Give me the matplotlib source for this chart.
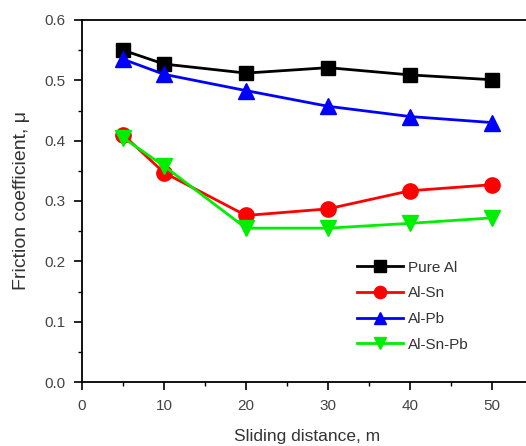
import matplotlib
matplotlib.use("Agg")
import matplotlib.pyplot as plt
from matplotlib.ticker import MultipleLocator

plt.rcParams['font.family'] = ['Liberation Sans', 'DejaVu Sans']

distance = [5, 10, 20, 30, 40, 50]
pure_al = [0.550, 0.527, 0.512, 0.521, 0.509, 0.501]
al_sn = [0.410, 0.347, 0.276, 0.287, 0.317, 0.327]
al_pb = [0.535, 0.510, 0.483, 0.457, 0.440, 0.430]
al_sn_pb = [0.405, 0.358, 0.255, 0.255, 0.263, 0.272]

fig = plt.figure(figsize=(5.26, 4.46), dpi=100)
ax = fig.add_axes([82/526, 64/446, (533-82)/526, (382-20)/446])

ax.plot(distance, pure_al, color='black', marker='s', markersize=10, lw=2, label='Pure Al')
ax.plot(distance, al_sn, color='red', marker='o', markersize=11, lw=2, label='Al-Sn')
ax.plot(distance, al_pb, color='blue', marker='^', markersize=11, lw=2, label='Al-Pb')
ax.plot(distance, al_sn_pb, color='#00ee00', marker='v', markersize=11, lw=2, label='Al-Sn-Pb')

ax.set_xlim(0, 55)
ax.set_ylim(0, 0.6)
ax.xaxis.set_major_locator(MultipleLocator(10))
ax.xaxis.set_minor_locator(MultipleLocator(5))
ax.yaxis.set_major_locator(MultipleLocator(0.1))
ax.yaxis.set_minor_locator(MultipleLocator(0.05))
ax.set_yticklabels([f"{v:.1f}" for v in ax.get_yticks()])
ax.tick_params(which='major', direction='out', length=6, width=1.2, labelsize=11,
               pad=6, colors='black', labelcolor='#444444')
ax.tick_params(which='minor', direction='out', length=3, width=1.0)
for s in ax.spines.values():
    s.set_linewidth(1.3)

ax.set_xlabel('Sliding distance, m', fontsize=12.5, color='#333333', labelpad=12)
ax.set_ylabel('Friction coefficient, μ', fontsize=14, color='#333333', labelpad=10)

leg = ax.legend(loc='upper left', bbox_to_anchor=((343-82)/451, 135/362), frameon=False,
                fontsize=11, handlelength=3.0, handletextpad=0.35, labelspacing=0.76,
                markerscale=0.8)
for t in leg.get_texts():
    t.set_color('#333333')

fig.savefig('out.png', dpi=100)
